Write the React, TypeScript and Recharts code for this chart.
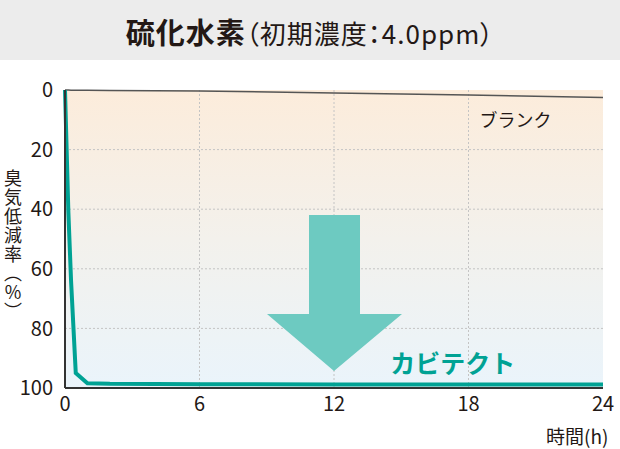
import { CartesianGrid, Line, LineChart, ReferenceDot, XAxis, YAxis } from 'recharts';

const hours = [0, 0.15, 0.27, 0.48, 1, 2, 6, 12, 18, 24];
const kabitect = [0, 41, 64, 95, 98.4, 98.6, 98.7, 98.8, 98.8, 98.8];
const blank = [0, 0, 0.05, 0.1, 0.1, 0.15, 0.3, 1.0, 1.7, 2.5];
const xTicks = [0, 6, 12, 18, 24];
const yTicks = [0, 20, 40, 60, 80, 100];

const data = hours.map((h, i) => ({ h, kabitect: kabitect[i], blank: blank[i] }));

const FONT = '"Noto Sans CJK JP", "Noto Sans", sans-serif';
const TEAL = '#00a294';
const INK = '#231815';

const Arrow = ({ cx, cy }: any) => {
  // tip at (cx, cy)
  const pts = [
    [cx, cy],
    [cx - 67, cy - 57],
    [cx - 25, cy - 57],
    [cx - 25, cy - 156],
    [cx + 26, cy - 156],
    [cx + 26, cy - 57],
    [cx + 68, cy - 57],
  ]
    .map((p) => p.join(','))
    .join(' ');
  return <polygon points={pts} fill="#6dcac1" />;
};

const TextMark = ({ cx, cy, text, color, size, weight }: any) => (
  <text x={cx} y={cy} textAnchor="middle" fill={color} fontSize={size} fontWeight={weight} fontFamily={FONT}>
    {text}
  </text>
);

const App = () => {
  return (
    <div style={{ position: 'absolute', left: 0, top: 0, width: 620, height: 449, background: '#fff', fontFamily: FONT }}>
      <div
        style={{
          position: 'absolute',
          left: 0,
          top: 0,
          width: 620,
          height: 60,
          background: '#ececec',
          textAlign: 'center',
          lineHeight: '62px',
          color: INK,
        }}
      >
        <span style={{ fontSize: 29, fontWeight: 700, letterSpacing: 1 }}>硫化水素</span>
        <span style={{ fontSize: 26, fontFeatureSettings: '"palt"', letterSpacing: 1 }}>（初期濃度：4.0ppm）</span>
      </div>
      <div style={{ position: 'absolute', left: 0, top: 0 }}>
        <LineChart width={620} height={449} data={data} margin={{ top: 90, right: 17, bottom: 31, left: 15 }}>
          <defs>
            <linearGradient id="bg" x1="0" y1="0" x2="0" y2="1">
              <stop offset="0%" stopColor="#fcecdb" />
              <stop offset="50%" stopColor="#f3f1ec" />
              <stop offset="100%" stopColor="#eaf4fb" />
            </linearGradient>
          </defs>
          <CartesianGrid
            fill="url(#bg)"
            stroke="#c4c4c4"
            strokeDasharray="2 2"
            verticalValues={[6, 12, 18]}
            horizontalValues={[20, 40, 60, 80]}
          />
          <XAxis
            dataKey="h"
            type="number"
            domain={[0, 24]}
            ticks={xTicks}
            tickLine={false}
            axisLine={{ stroke: '#333', strokeWidth: 2 }}
            tick={{ fill: INK, fontSize: 20, fontFamily: FONT }}
            tickMargin={3}
            height={30}
          />
          <YAxis
            type="number"
            domain={[0, 100]}
            reversed
            ticks={yTicks}
            tickLine={false}
            axisLine={{ stroke: '#333', strokeWidth: 2 }}
            tick={{ fill: INK, fontSize: 20, fontFamily: FONT }}
            tickMargin={6}
            width={50}
          />
          <ReferenceDot x={12} y={94.3} r={0} shape={(p: any) => <Arrow {...p} />} />
          <Line
            type="linear"
            dataKey="blank"
            stroke="#555"
            strokeWidth={1.5}
            dot={false}
            isAnimationActive={false}
          />
          <Line
            type="linear"
            dataKey="kabitect"
            stroke={TEAL}
            strokeWidth={4}
            dot={false}
            isAnimationActive={false}
          />
          <ReferenceDot
            x={20.1}
            y={12.4}
            r={0}
            shape={(p: any) => <TextMark {...p} text="ブランク" color={INK} size={18} weight={400} />}
          />
          <ReferenceDot
            x={17.3}
            y={95}
            r={0}
            shape={(p: any) => <TextMark {...p} text="カビテクト" color={TEAL} size={25} weight={700} />}
          />
        </LineChart>
      </div>
      <div
        style={{
          position: 'absolute',
          left: 3,
          top: 169,
          writingMode: 'vertical-rl',
          textOrientation: 'upright',
          fontSize: 18,
          lineHeight: '20px',
          letterSpacing: 1,
          color: INK,
        }}
      >
        臭気低減率（%）
      </div>
      <div style={{ position: 'absolute', left: 546, top: 424, fontSize: 19, lineHeight: '24px', color: INK, whiteSpace: 'nowrap' }}>
        時間(h)
      </div>
    </div>
  );
};

export default App;
